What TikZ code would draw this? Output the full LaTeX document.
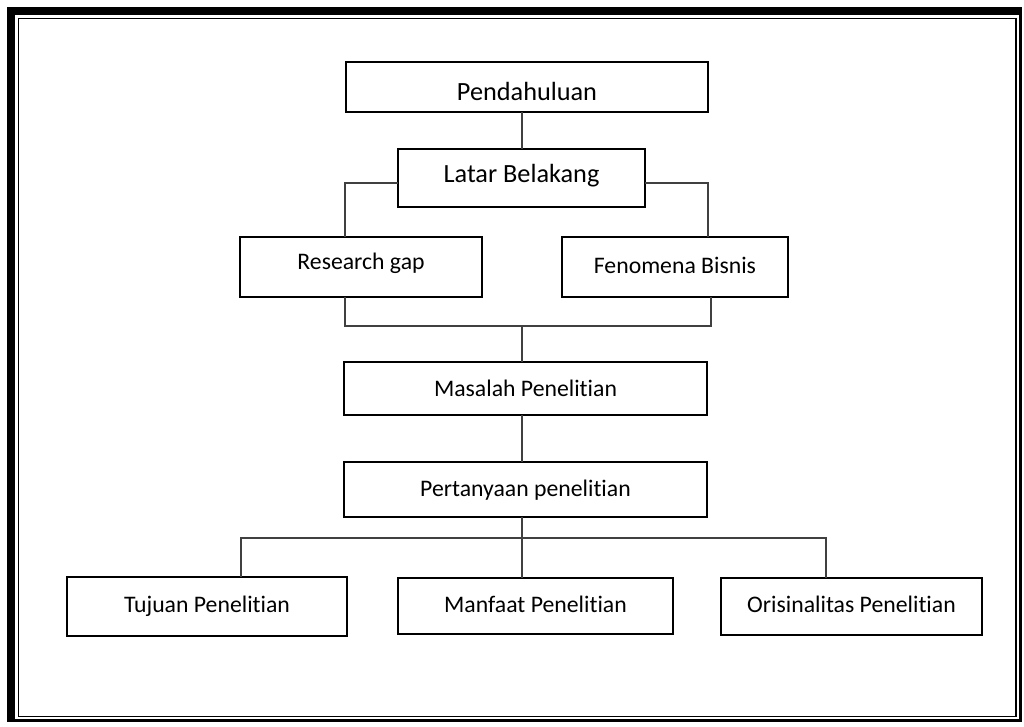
\documentclass[tikz,border=0pt]{standalone}
\usepackage{fontspec}
\setmainfont{Carlito}[RawFeature={-liga;-clig;-calt;-dlig}]
\begin{document}
\begin{tikzpicture}[x=0.75pt,y=-0.75pt,
  box/.style 2 args={draw=black,line width=1.5pt,fill=white,inner sep=0pt,outer sep=0pt,
    minimum width=#1*0.75pt,minimum height=#2*0.75pt,
    font=\fontsize{17.8}{21}\selectfont},
  % baseline of the label sits #1 px below the box centre
  base/.style={text height={(20+(#1))*0.75pt},text depth={(20-(#1))*0.75pt}},
  bigbox/.style={font=\fontsize{19.7}{23}\selectfont},
  conn/.style={draw=black!75,line width=0.9pt}]
% page and frame
\path[use as bounding box,fill=white] (0,0) rectangle (1024,726);
\fill[black] (7,7) rectangle (1022,722);
\fill[white] (15,15) rectangle (1019,719);
\draw[line width=1.2pt] (18.5,18.5) rectangle (1016,716.5);

% boxes
\node[box={362}{50},bigbox,base=13.5] (pend)  at (527,87)     {Pendahuluan};
\node[box={247}{58},bigbox,base=4]    (latar) at (521.5,178)  {Latar Belakang};
\node[box={242}{60},base=2]   (rg)    at (361,267)    {Research gap};
\node[box={226}{60},base=6]   (fen)   at (675,267)    {Fenomena Bisnis};
\node[box={363}{53},base=7.5] (mas)   at (525.5,388.5){Masalah Penelitian};
\node[box={363}{55},base=6.5] (per)   at (525.5,489.5){Pertanyaan penelitian};
\node[box={280}{59},base=6]   (tuj)   at (207,606.5)  {Tujuan Penelitian};
\node[box={275}{56},base=6]   (man)   at (535.5,606)  {Manfaat Penelitian};
\node[box={261}{57},base=6]   (ori)   at (851.5,606.5){Orisinalitas Penelitian};

% junction points
\coordinate (jl) at (345,183);
\coordinate (jr) at (708,183);
\coordinate (bl) at (345,326);
\coordinate (br) at (711,326);
\coordinate (bm) at (522,326);
\coordinate (ll) at (241,538);
\coordinate (lr) at (826,538);
\coordinate (lm) at (522,538);

% connectors
\draw[conn] (pend.south -| bm) -- (latar.north -| bm);
\draw[conn] (latar.west |- jl) -- (jl) -- (jl |- rg.north);
\draw[conn] (latar.east |- jr) -- (jr) -- (jr |- fen.north);
\draw[conn] (bl |- rg.south) -- (bl) -- (br) -- (br |- fen.south);
\draw[conn] (bm) -- (bm |- mas.north);
\draw[conn] (mas.south -| bm) -- (per.north -| bm);
\draw[conn] (per.south -| lm) -- (lm);
\draw[conn] (ll |- tuj.north) -- (ll) -- (lr) -- (lr |- ori.north);
\draw[conn] (lm) -- (lm |- man.north);
\end{tikzpicture}
\end{document}
